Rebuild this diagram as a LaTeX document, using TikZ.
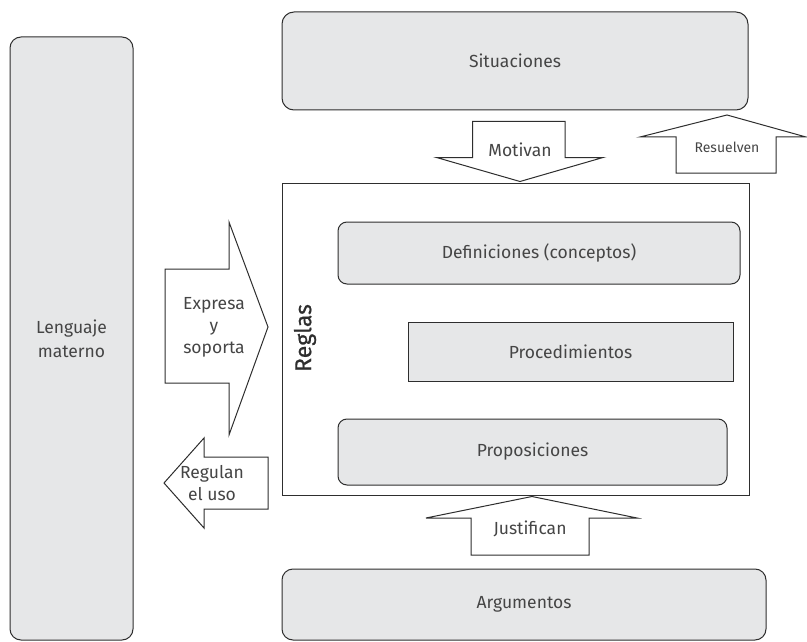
\documentclass[tikz,border=0pt]{standalone}
\usepackage{fontspec}
\setmainfont{Fira Sans}
\newfontfamily\reglasfont[FakeBold=0.6]{Fira Sans}
\definecolor{linec}{HTML}{2E2E2E}
\definecolor{boxfill}{HTML}{E6E7E8}
\definecolor{textc}{HTML}{454545}
\tikzset{
  basebox/.style={draw=linec, line width=1pt, inner sep=0pt, text=textc, align=center, font=\fontsize{17.5}{24}\selectfont},
  graybox/.style={basebox, fill=boxfill},
  roundbox/.style={graybox, rounded corners=9pt},
  blockarrow/.style={draw=linec, fill=white, line width=1pt, line join=miter},
  arrowlabel/.style={text=textc, align=center, inner sep=0pt, font=\fontsize{17.5}{22}\selectfont},
}
\begin{document}
\begin{tikzpicture}[x=1pt,y=-1pt]
\useasboundingbox (0,0) rectangle (807,642);
% main boxes
\node[roundbox, rounded corners=11pt, minimum width=123pt, minimum height=603pt] (leng) at (71.5,338.5) {Lenguaje\\materno};
\node[roundbox, rounded corners=12pt, minimum width=466pt, minimum height=98pt] (sit) at (515,61) {Situaciones};
\node[basebox, fill=white, minimum width=467pt, minimum height=312pt] (reglas) at (515.5,339) {};
\node[roundbox, minimum width=402pt, minimum height=62pt] (defi) at (539,253) {Definiciones (conceptos)};
\node[graybox, minimum width=325pt, minimum height=59pt] (proc) at (570.5,351.5) {Procedimientos};
\node[roundbox, minimum width=389pt, minimum height=66pt] (prop) at (532.5,452) {Proposiciones};
\node[roundbox, rounded corners=11pt, minimum width=484pt, minimum height=71pt] (arg) at (524,604.5) {Argumentos};
\node[rotate=90, text=linec, inner sep=0pt, font=\fontsize{23}{26}\reglasfont] (reglaslbl) at (305,338) {Reglas};
% Motivan (down)
\draw[blockarrow] (472.5,121.5) -- (565,121.5) -- (565,157.5) -- (603,157.5) -- (520,181.5) -- (436.5,157.5) -- (472.5,157.5) -- cycle;
\node[arrowlabel] (motivan) at (520,150) {Motivan};
% Resuelven (up)
\draw[blockarrow] (676,173) -- (776,173) -- (776,137) -- (806,137) -- (727,115) -- (640,137) -- (676,137) -- cycle;
\node[arrowlabel, font=\fontsize{14}{16}\selectfont] (resuelven) at (727,147) {Resuelven};
% Expresa y soporta (right)
\draw[blockarrow] (165,269) -- (229,269) -- (229,222) -- (268,327) -- (229,435) -- (229,383) -- (165,383) -- cycle;
\node[arrowlabel] (expresa) at (214,327) {Expresa\\y\\soporta};
% Regulan el uso (left)
\draw[blockarrow] (268,457) -- (204,457) -- (204,438) -- (164,483) -- (204,528) -- (204,509) -- (268,509) -- cycle;
\node[arrowlabel] (regulan) at (212,483) {Regulan\\el uso};
% Justifican (up)
\draw[blockarrow] (471,555) -- (471,518) -- (426,518) -- (532,496.5) -- (637,518) -- (589,518) -- (589,555) -- cycle;
\node[arrowlabel] (justifican) at (530,529) {Justifican};
\end{tikzpicture}
\end{document}
